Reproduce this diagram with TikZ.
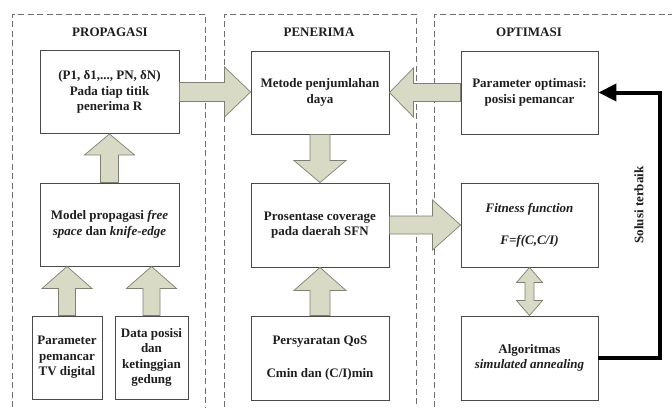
\documentclass[tikz,border=0pt]{standalone}
\usepackage{fontspec}
\setmainfont{Liberation Serif}
\usetikzlibrary{calc,arrows.meta}
\definecolor{arrfill}{HTML}{D8DAC6}
\definecolor{arrline}{HTML}{7E7F72}
\definecolor{boxline}{HTML}{4A4A4A}
\definecolor{panelline}{HTML}{6E6E6E}
\definecolor{txt}{HTML}{1E1E1E}
\newcommand\barrow[5]{%
  \coordinate (ba-a) at #1; \coordinate (ba-b) at #2;
  \coordinate (ba-h) at ($(ba-b)!#5!(ba-a)$);
  \draw[blockarrow] ($(ba-a)!#3!90:(ba-b)$) -- ($(ba-h)!#3!90:(ba-b)$) -- ($(ba-h)!#4!90:(ba-b)$) -- (ba-b) -- ($(ba-h)!#4!-90:(ba-b)$) -- ($(ba-h)!#3!-90:(ba-b)$) -- ($(ba-a)!#3!-90:(ba-b)$) -- cycle;}
\begin{document}
\begin{tikzpicture}[x=1pt,y=-1pt,
  every node/.style={text=txt,font=\fontsize{13}{15.5}\selectfont\bfseries},
  box/.style={draw=boxline,line width=0.9pt,fill=white,align=center,inner sep=2pt},
  bigbox/.style={box,minimum width=138pt,minimum height=83pt},
  smallbox/.style={box,minimum height=83pt},
  title/.style={},
  blockarrow/.style={fill=arrfill,draw=arrline,line width=0.7pt,line join=miter},
  panel/.style={draw=panelline,line width=0.9pt,dash pattern=on 6pt off 3.5pt}]
\useasboundingbox (0,0) rectangle (672,407);
% panels
\draw[panel] (12,407) -- (12,14) -- (205,14) -- (205,407);
\draw[panel] (224,407) -- (224,14) -- (416,14) -- (416,407);
\draw[panel] (434,407) -- (434,14) -- (672,14);
% titles
\node[title] (t1) at (110,32) {PROPAGASI};
\node[title] (t2) at (319,32) {PENERIMA};
\node[title] (t3) at (529,32) {OPTIMASI};
% boxes
\node[bigbox,minimum width=139pt] (A) at (109.5,92) {(P1, δ1,..., PN, δN)\\Pada tiap titik\\penerima R};
\node[bigbox,minimum width=139pt] (B) at (109.5,224.5) {Model propagasi \textit{free}\\\textit{space} dan \textit{knife-edge}};
\node[smallbox,minimum width=70pt] (C) at (67,357.5) {Parameter\\pemancar\\TV digital};
\node[smallbox,minimum width=73pt] (D) at (151.5,357.5) {Data posisi\\dan\\ketinggian\\gedung};
\node[bigbox] (E) at (320,92.5) {Metode penjumlahan\\daya};
\node[bigbox,minimum height=84pt] (F) at (320,225) {Prosentase coverage\\pada daerah SFN};
\node[bigbox,minimum height=84pt] (G) at (320,358) {Persyaratan QoS\\[17pt]Cmin dan (C/I)min};
\node[bigbox,minimum width=137pt] (H) at (529.5,92.5) {Parameter optimasi:\\posisi pemancar};
\node[bigbox,minimum width=137pt,minimum height=84pt] (I) at (529.5,225) {\textit{Fitness function}\\[16.5pt]\textit{F=f(C,C/I)}};
\node[bigbox,minimum width=137pt,minimum height=84pt] (J) at (529.5,358) {Algoritmas\\\textit{simulated annealing}};
% block arrows
\barrow{(C.north)}{(C.north|-B.south)}{8.5pt}{25pt}{22pt}
\barrow{(D.north)}{(D.north|-B.south)}{8.5pt}{25pt}{22pt}
\barrow{(B.north)}{(A.south)}{9pt}{25pt}{21pt}
\barrow{(A.east)}{(A.east-|E.west)}{9.5pt}{25pt}{26pt}
\barrow{(H.west)}{(E.east)}{9pt}{24.5pt}{24pt}
\barrow{(E.south)}{(F.north)}{10pt}{26pt}{22pt}
\barrow{(G.north)}{(F.south)}{10pt}{26pt}{23pt}
\barrow{(F.east)}{(I.west)}{9pt}{25pt}{28pt}
% double arrow
\draw[blockarrow] (I.south) -- ($(I.south)+(13,15)$) -- ($(I.south)+(4.5,15)$) -- ($(J.north)+(4.5,-15)$) -- ($(J.north)+(13,-15)$) -- (J.north) -- ($(J.north)+(-13,-15)$) -- ($(J.north)+(-4.5,-15)$) -- ($(I.south)+(-4.5,15)$) -- ($(I.south)+(-13,15)$) -- cycle;
% feedback
\coordinate (r) at (660,0);
\draw[line width=4pt,line join=miter,-{Triangle[length=18pt,width=17pt]}] (J.east) -- (J.east-|r) -- (H.east-|r) -- (H.east);
\node[rotate=90] (sol) at (639,205) {Solusi terbaik};
\end{tikzpicture}
\end{document}
